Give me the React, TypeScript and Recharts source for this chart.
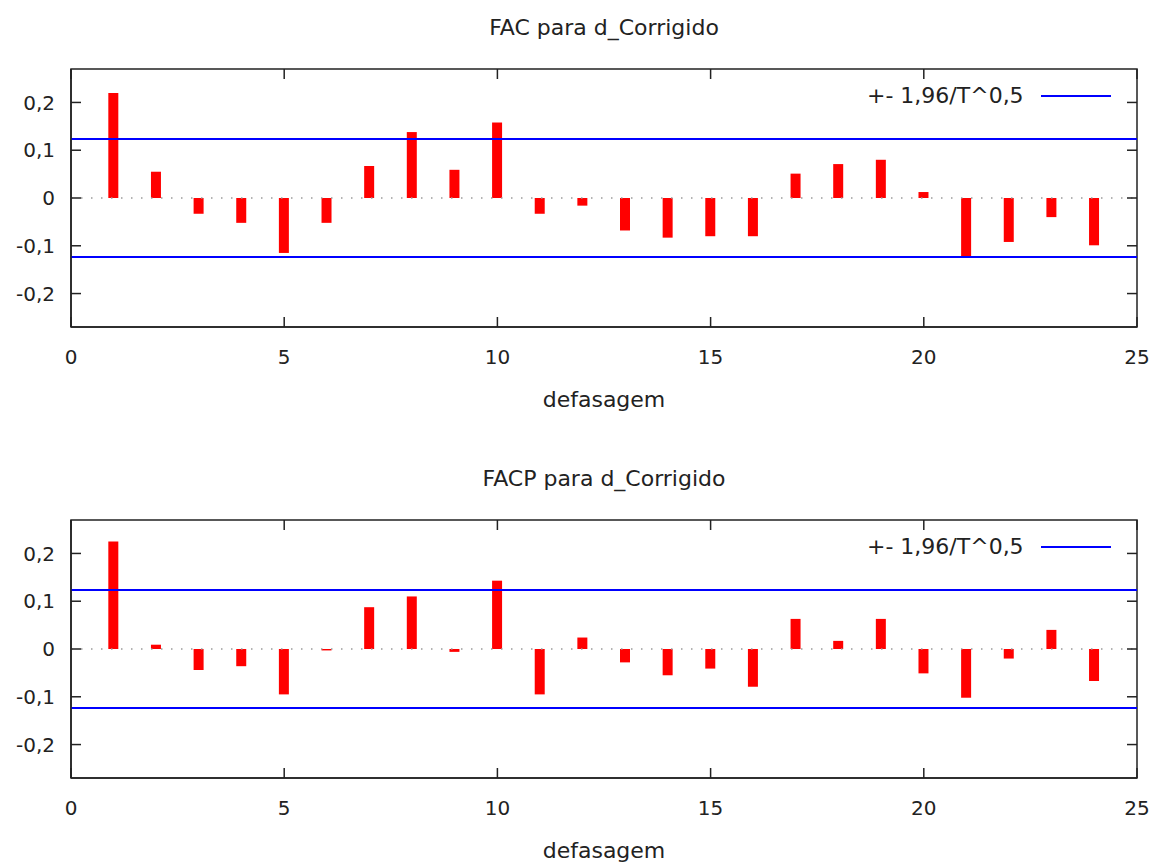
import { BarChart, Bar, XAxis, YAxis, ReferenceLine, ReferenceArea, Legend, Label } from "recharts";

// lags 1..24
const lags = [1, 2, 3, 4, 5, 6, 7, 8, 9, 10, 11, 12, 13, 14, 15, 16, 17, 18, 19, 20, 21, 22, 23, 24];

// FAC (autocorrelation)
const facValues = [
  0.22, 0.055, -0.033, -0.052, -0.115, -0.052, 0.067, 0.138, 0.059, 0.158, -0.033, -0.016,
  -0.068, -0.083, -0.08, -0.08, 0.051, 0.071, 0.08, 0.0125, -0.124, -0.092, -0.04, -0.099,
];

// FACP (partial autocorrelation)
const facpValues = [
  0.225, 0.009, -0.044, -0.036, -0.095, -0.003, 0.0875, 0.11, -0.006, 0.143, -0.095, 0.024,
  -0.028, -0.055, -0.041, -0.079, 0.063, 0.017, 0.063, -0.051, -0.102, -0.02, 0.04, -0.067,
];

const xTicks = [0, 5, 10, 15, 20, 25];
const yTicks = [-0.2, -0.1, 0, 0.1, 0.2];
const band = 0.1237; // +- 1,96/T^0,5
const bandLabel = "+- 1,96/T^0,5";

const FONT = "'DejaVu Sans', sans-serif";
const FS = 22;
const TICK_FS = 20;
const ink = "#222";

// plot box inside each panel
const PL = 71;
const PR = 1137;
const PT = 69;
const PB = 327;
const TL = 10;

const fmtY = (v: number) => (v === 0 ? "0" : v.toFixed(1).replace(".", ","));

const YTick = ({ y, payload }: any) => (
  <g>
    <line x1={PL} x2={PL + TL} y1={y} y2={y} stroke={ink} strokeWidth={1.5} />
    <line x1={PR - TL} x2={PR} y1={y} y2={y} stroke={ink} strokeWidth={1.5} />
    <text x={55} y={y} dy="0.36em" textAnchor="end" fill={ink} fontSize={TICK_FS} fontFamily={FONT}>
      {fmtY(payload.value)}
    </text>
  </g>
);

const XTick = ({ x, payload }: any) => (
  <g>
    <line x1={x} x2={x} y1={PB} y2={PB - TL} stroke={ink} strokeWidth={1.5} />
    <line x1={x} x2={x} y1={PT} y2={PT + TL} stroke={ink} strokeWidth={1.5} />
    <text x={x} y={357} dy="0.36em" textAnchor="middle" fill={ink} fontSize={TICK_FS} fontFamily={FONT}>
      {payload.value}
    </text>
  </g>
);

function BandLegend() {
  return (
    <div style={{ display: "flex", alignItems: "center", fontFamily: FONT, fontSize: FS, color: ink, whiteSpace: "nowrap" }}>
      <span>{bandLabel}</span>
      <svg width={72} height={6} style={{ marginLeft: 17 }}>
        <line x1={0} y1={3} x2={70} y2={3} stroke="#0000ff" strokeWidth={2} />
      </svg>
    </div>
  );
}

function AcfPanel({ title, values, top, height }: any) {
  const data = lags.map((lag, i) => ({ lag, value: values[i] }));
  return (
    <div style={{ position: "absolute", left: 0, top, width: 1156, height }}>
      <div
        style={{
          position: "absolute",
          top: 16,
          left: PL,
          width: PR - PL,
          textAlign: "center",
          fontFamily: FONT,
          fontSize: FS,
          lineHeight: "24px",
          color: ink,
        }}
      >
        {title}
      </div>
      <BarChart
        width={1156}
        height={height}
        data={data}
        margin={{ top: PT, right: 1156 - PR, bottom: height - PB - 40, left: 0 }}
      >
        <XAxis
          dataKey="lag"
          type="number"
          domain={[0, 25]}
          ticks={xTicks}
          allowDataOverflow
          height={40}
          axisLine={{ stroke: ink, strokeWidth: 1.5 }}
          tickLine={false}
          tick={<XTick />}
        >
          <Label
            value="defasagem"
            position="bottom"
            offset={24}
            style={{ fill: ink, fontSize: FS, fontFamily: FONT }}
          />
        </XAxis>
        <YAxis
          type="number"
          domain={[-0.27, 0.27]}
          ticks={yTicks}
          allowDataOverflow
          width={PL}
          axisLine={{ stroke: ink, strokeWidth: 1.5 }}
          tickLine={false}
          tick={<YTick />}
        />
        <ReferenceArea x1={0} x2={25} y1={-0.27} y2={0.27} fill="none" stroke={ink} strokeWidth={1.5} />
        <ReferenceLine y={0} stroke="#9a9a9a" strokeWidth={1.5} strokeDasharray="1.5 8.5" />
        <Bar dataKey="value" fill="#ff0000" barSize={10} isAnimationActive={false} />
        <ReferenceLine y={band} stroke="#0000ff" strokeWidth={2} />
        <ReferenceLine y={-band} stroke="#0000ff" strokeWidth={2} />
        <Legend
          layout="horizontal"
          verticalAlign="middle"
          content={() => <BandLegend />}
          wrapperStyle={{ position: "absolute", top: 83, left: 867, width: "auto" }}
        />
      </BarChart>
    </div>
  );
}

export default function App() {
  return (
    <div style={{ position: "absolute", left: 0, top: 0, width: 1156, height: 862, background: "#fff" }}>
      <AcfPanel title="FAC para d_Corrigido" values={facValues} top={0} height={431} />
      <AcfPanel title="FACP para d_Corrigido" values={facpValues} top={451} height={411} />
    </div>
  );
}
